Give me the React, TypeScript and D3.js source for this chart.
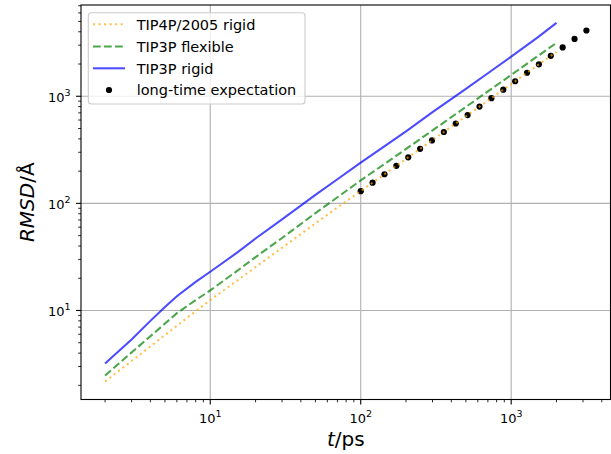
import React from "react";
import * as d3 from "d3";

const tValues = [2, 3, 4, 5, 6, 8, 10, 15, 20, 30, 50, 70, 100, 150, 200, 300, 500, 700, 1000, 1500, 2000];
const tip4pRigid = [2.17, 3.38, 4.62, 5.9, 7.2, 9.85, 12.5, 18.9, 25.4, 38.5, 65, 91.5, 130, 195, 260, 390, 650, 910, 1300, 1950, 2600];
const tip3pFlexible = [2.47, 4.05, 5.75, 7.55, 9.44, 12.5, 15.4, 23.3, 31.5, 47.5, 81, 114, 164, 243, 322, 480, 795, 1110, 1580, 2370, 3150];
const tip3pRigid = [3.2, 5.35, 8.0, 10.8, 13.6, 18.5, 23, 34.5, 47, 71, 120, 168, 240, 355, 470, 710, 1170, 1640, 2340, 3550, 4840];

const expectT = [100, 119.9, 143.8, 172.5, 206.9, 248.1, 297.6, 356.9, 428.1, 513.5, 615.8, 738.6, 885.9, 1062.5, 1274.3, 1528.3, 1833.0, 2198.4, 2636.7, 3162.3];
const expectRMSD = [130, 156, 187, 224, 269, 323, 387, 464, 557, 668, 801, 960, 1152, 1381, 1657, 1987, 2383, 2858, 3428, 4111];

const legendLabels = ["TIP4P/2005 rigid", "TIP3P flexible", "TIP3P rigid", "long-time expectation"];
const majorTickExps = [0, 1, 2, 3, 4];

const W = 611;
const H = 454;
const L = 81;
const R = 610.5;
const T = 5;
const B = 399.5;
const FONT = "DejaVu Sans, sans-serif";

export default function App() {
  const x = d3.scaleLog().domain([Math.pow(10, 0.141), Math.pow(10, 3.66)]).range([L, R]);
  const y = d3.scaleLog().domain([Math.pow(10, 0.169), Math.pow(10, 3.852)]).range([B, T]);

  const line = (ys: number[]) =>
    d3.line<number>().x((d) => x(d)).y((_, i) => y(ys[i]))(tValues) || "";

  const [x0, x1] = x.domain();
  const [y0, y1] = y.domain();

  const majorX = majorTickExps.map((e) => Math.pow(10, e)).filter((v) => v >= x0 && v <= x1);
  const majorY = majorTickExps.map((e) => Math.pow(10, e)).filter((v) => v >= y0 && v <= y1);
  const minors = (lo: number, hi: number) => {
    const out: number[] = [];
    for (let e = -1; e <= 4; e++) {
      for (let m = 2; m <= 9; m++) {
        const v = m * Math.pow(10, e);
        if (v >= lo && v <= hi) out.push(v);
      }
    }
    return out;
  };
  const minorX = minors(x0, x1);
  const minorY = minors(y0, y1);

  const series = [
    { label: legendLabels[0], ys: tip4pRigid, color: "#FFA500", dash: "2.08 3.44" },
    { label: legendLabels[1], ys: tip3pFlexible, color: "#008000", dash: "7.7 3.33" },
    { label: legendLabels[2], ys: tip3pRigid, color: "#0000FF", dash: "none" },
  ];

  const exp = (v: number) => Math.round(Math.log10(v));

  const legendX = 88.3;
  const legendY = 12.7;
  const rowY = [24.3, 46.5, 68.3, 90];

  return (
    <svg width={W} height={H} style={{ position: "absolute", left: 0, top: 0 }} fontFamily={FONT}>
      <rect x={0} y={0} width={W} height={H} fill="white" />
      {majorX.map((v) => (
        <line key={"gx" + v} x1={x(v)} x2={x(v)} y1={T} y2={B} stroke="#b0b0b0" strokeWidth={1.1} />
      ))}
      {majorY.map((v) => (
        <line key={"gy" + v} x1={L} x2={R} y1={y(v)} y2={y(v)} stroke="#b0b0b0" strokeWidth={1.1} />
      ))}
      {expectT.map((t, i) => (
        <circle key={"d" + i} cx={x(t)} cy={y(expectRMSD[i])} r={3.1} fill="black" />
      ))}
      {series
        .slice()
        .reverse()
        .map((s) => (
          <path
            key={s.label}
            d={line(s.ys)}
            fill="none"
            stroke={s.color}
            strokeOpacity={0.7}
            strokeWidth={2.08}
            strokeDasharray={s.dash}
          />
        ))}
      <rect x={L} y={T} width={R - L} height={B - T} fill="none" stroke="black" strokeWidth={1.1} />
      {majorX.map((v) => (
        <g key={"tx" + v}>
          <line x1={x(v)} x2={x(v)} y1={B} y2={B + 4.9} stroke="black" strokeWidth={1.1} />
          <text x={x(v)} y={422.5} textAnchor="middle" fontSize={13}>
            <tspan>10</tspan>
            <tspan dy={-5.5} fontSize={9.5}>{exp(v)}</tspan>
          </text>
        </g>
      ))}
      {minorX.map((v) => (
        <line key={"mx" + v} x1={x(v)} x2={x(v)} y1={B} y2={B + 2.8} stroke="black" strokeWidth={0.85} />
      ))}
      {majorY.map((v) => (
        <g key={"ty" + v}>
          <line x1={L - 4.9} x2={L} y1={y(v)} y2={y(v)} stroke="black" strokeWidth={1.1} />
          <text x={70.5} y={y(v) + 5.3} textAnchor="end" fontSize={13}>
            <tspan>10</tspan>
            <tspan dy={-5.5} fontSize={9.5}>{exp(v)}</tspan>
          </text>
        </g>
      ))}
      {minorY.map((v) => (
        <line key={"my" + v} x1={L - 2.8} x2={L} y1={y(v)} y2={y(v)} stroke="black" strokeWidth={0.85} />
      ))}
      <text x={(L + R) / 2} y={446} textAnchor="middle" fontSize={20}>
        <tspan fontStyle="italic">t</tspan>
        <tspan>/ps</tspan>
      </text>
      <text transform={`translate(34,${(T + B) / 2}) rotate(-90)`} textAnchor="middle" fontSize={20}>
        <tspan fontStyle="italic">RMSD</tspan>
        <tspan>/Å</tspan>
      </text>
      <rect
        x={legendX}
        y={legendY}
        width={216.7}
        height={91.3}
        rx={3}
        fill="white"
        fillOpacity={0.8}
        stroke="#cccccc"
        strokeWidth={1.1}
      />
      {series.map((s, i) => (
        <g key={"lg" + i}>
          <line
            x1={93}
            x2={125}
            y1={rowY[i]}
            y2={rowY[i]}
            stroke={s.color}
            strokeOpacity={0.7}
            strokeWidth={2.08}
            strokeDasharray={s.dash}
          />
          <text x={136.7} y={rowY[i] + 5.2} fontSize={14.5}>
            {s.label}
          </text>
        </g>
      ))}
      <circle cx={109} cy={rowY[3]} r={3.1} fill="black" />
      <text x={136.7} y={rowY[3] + 5.2} fontSize={14.5}>
        {legendLabels[3]}
      </text>
    </svg>
  );
}
